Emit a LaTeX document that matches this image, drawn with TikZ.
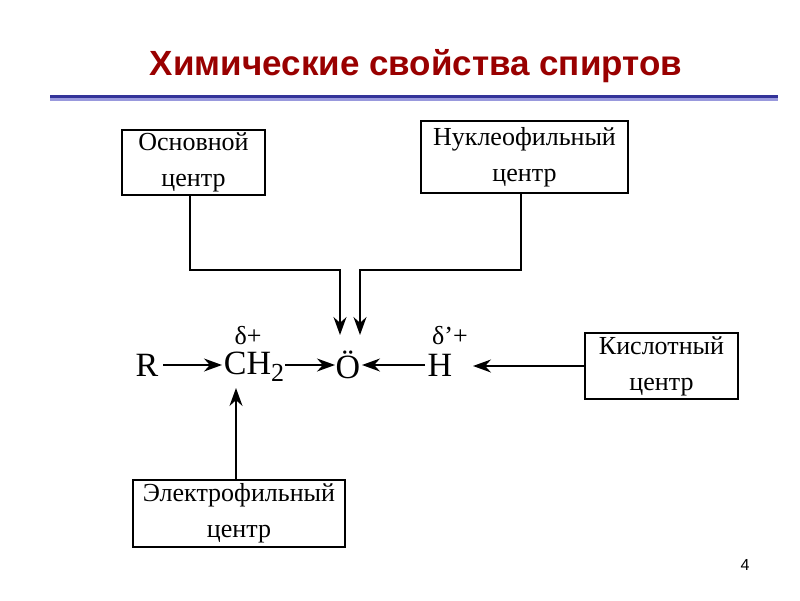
\documentclass[tikz,border=0pt]{standalone}
\usepackage{fontspec}
\setmainfont{Liberation Serif}
\newfontfamily\titlefont{Liberation Sans}
\usetikzlibrary{arrows.meta}
\definecolor{tred}{HTML}{990000}
\definecolor{rdark}{HTML}{333399}
\definecolor{rlight}{HTML}{9999DD}
\begin{document}
\begin{tikzpicture}[x=1pt,y=-1pt,
  box/.style={draw,line width=1.2pt,align=center,font=\fontsize{26}{36}\selectfont,inner sep=0pt},
  mol/.style={font=\fontsize{34}{38}\selectfont,inner sep=0pt},
  arr/.style={line width=1.4pt,-{Stealth[length=18pt,width=13pt]}}]
\useasboundingbox (0,0) rectangle (800,600);
\node[font=\titlefont\bfseries\fontsize{35}{40}\selectfont,text=tred] (title) at (416,66) {Химические свойства спиртов};
\fill[rdark] (50,95) rectangle (778,98);
\fill[rlight] (50,98) rectangle (778,101);
\node[box,minimum width=143pt,minimum height=65pt] (osn) at (193.5,162.5) {Основной\\центр};
\node[box,minimum width=207pt,minimum height=72pt] (nuc) at (524.5,157) {Нуклеофильный\\центр};
\node[box,minimum width=153pt,minimum height=66pt] (kis) at (661.5,366) {Кислотный\\центр};
\node[box,minimum width=212pt,minimum height=67pt] (ele) at (239,513.5) {Электрофильный\\центр};
\node[mol] (R) at (147,365) {R};
\node[mol] (C) at (254,367) {CH\raisebox{-7pt}{\fontsize{26}{28}\selectfont 2}};
\node[mol] (O) at (348,365) {Ö};
\node[mol] (H) at (440,365) {H};
\node[font=\fontsize{26}{30}\selectfont] (d1) at (248,336) {δ+};
\node[font=\fontsize{26}{30}\selectfont] (d2) at (450,336) {δ'+};
\draw[arr] (163,365) -- (222,365);
\draw[arr] (285,365) -- (335,365);
\draw[arr] (425,365) -- (362,365);
\draw[arr] (kis.west) -- (473,366);
\draw[arr] (osn.south -| 190,0) |- (340,270) -- (340,335);
\draw[arr] (nuc.south -| 521,0) |- (360,270) -- (360,335);
\draw[arr] (ele.north -| 236,0) -- (236,388);
\node[font=\titlefont\fontsize{16}{18}\selectfont] (pg) at (745,565) {4};
\end{tikzpicture}
\end{document}
